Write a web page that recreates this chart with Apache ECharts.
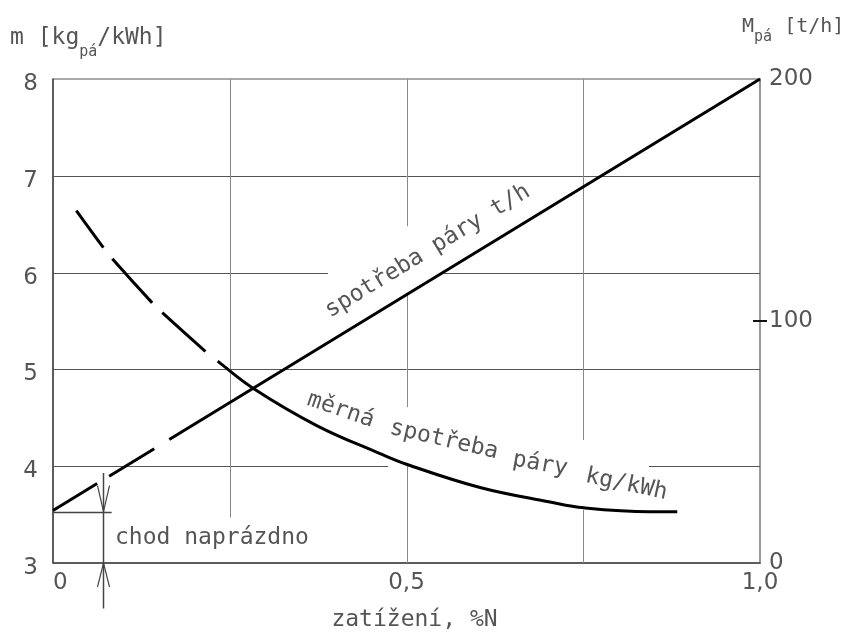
<!DOCTYPE html>
<html><head><meta charset="utf-8">
<script src="https://cdn.jsdelivr.net/npm/echarts@6/dist/echarts.min.js"></script>
<style>html,body{margin:0;padding:0;background:#fff}#c{width:851px;height:637px}</style>
</head><body><div id="c"></div>
<script>
// ---- data ----
const loadX  = [0.033, 0.071, 0.083, 0.140, 0.154, 0.215, 0.232, 0.284, 0.373, 0.4625, 0.5, 0.604, 0.703, 0.751, 0.844, 0.883];
const specM  = [6.64, 6.26, 6.15, 5.69, 5.59, 5.19, 5.09, 4.80, 4.42, 4.13, 4.02, 3.78, 3.63, 3.57, 3.53, 3.53];
const steamX = [0, 1];
const steamT = [21.7, 200];
const xTicks = [0, 0.5, 1];
const xTickText = ['0', '0,5', '1,0'];
const leftTicks = [3, 4, 5, 6, 7, 8];
const rightTicks = [0, 100, 200];
const idleM = 3.53;          // chod naprázdno level
const idleX = 0.0707;        // dimension line position
const xName = 'zatížení, %N';
const leftName = ['m [kg', 'pá', '/kWh]'];
const rightName = ['M', 'pá', ' [t/h]'];
const lblSteam = 'spotřeba páry t/h';
const lblSpec = ['měrná', 'spotřeba', 'páry', 'kg/kWh'];
const lblIdle = 'chod naprázdno';
// grid segments (data units): [value, from, to]
const hGrid = [[7,0,1],[5,0,1],[6,0,0.389],[6,0.552,1],[4,0,0.474],[4,0.843,1]];
const vGrid = [[0.25,3.47,8],[0.5,3,4.02],[0.5,4.61,5.77],[0.5,6.48,8],[0.75,3,3.55],[0.75,4.27,8]];

const chart = echarts.init(document.getElementById('c'));
const NUMF = "'DejaVu Sans',sans-serif";
const WORDF = "'DejaVu Sans Mono',monospace";
const TXT = '#555';
chart.setOption({
  animation:false,
  grid:{left:53,right:91,top:79,bottom:70,show:true,borderColor:'#555',borderWidth:1,backgroundColor:'transparent'},
  xAxis:{type:'value',min:0,max:1,interval:0.5,
    axisLine:{show:true,lineStyle:{color:'#444',width:1.5}},axisTick:{show:false},splitLine:{show:false},
    axisLabel:{color:TXT,fontFamily:NUMF,fontSize:23,margin:9,alignMinLabel:'left',alignMaxLabel:'center',
      formatter:v=>{const i=xTicks.indexOf(v);return i>=0?xTickText[i]:'';}},
    name:xName,nameLocation:'middle',nameGap:46,nameTextStyle:{color:TXT,fontFamily:WORDF,fontSize:23,padding:[0,0,0,16]}},
  yAxis:[
    {type:'value',min:leftTicks[0],max:leftTicks[leftTicks.length-1],interval:1,position:'left',
      axisLine:{show:true,lineStyle:{color:'#444',width:1.5}},axisTick:{show:false},splitLine:{show:false},
      axisLabel:{color:TXT,fontFamily:NUMF,fontSize:23,margin:15,formatter:v=>'{v|'+v+'}',
        rich:{v:{color:TXT,fontFamily:NUMF,fontSize:23,padding:[10,0,0,0]}}}},
    {type:'value',min:rightTicks[0],max:rightTicks[rightTicks.length-1],interval:100,position:'right',
      axisLine:{show:true,lineStyle:{color:'#999',width:2}},axisTick:{show:false},splitLine:{show:false},
      axisLabel:{color:TXT,fontFamily:NUMF,fontSize:23,margin:9}}
  ],
  series:[
    {type:'line',name:'měrná spotřeba',yAxisIndex:0,showSymbol:false,smooth:0.4,z:5,
      data:loadX.map((x,i)=>[x,specM[i]]),
      lineStyle:{color:'#000',width:3,cap:'butt',type:[45.8,14.2,59.5,14.1,58,15.6,3000]}},
    {type:'line',name:'spotřeba',yAxisIndex:1,showSymbol:false,z:5,
      data:steamX.map((x,i)=>[x,steamT[i]]),
      lineStyle:{color:'#000',width:3,cap:'butt',type:[51.7,14.1,52.8,17.6,3000]}}
  ]
});

const px=(x,y,ax)=>chart.convertToPixel({xAxisIndex:0,yAxisIndex:ax||0},[x,y]);
const crisp=v=>Math.round(v)+0.5;
const els=[];
function seg(a,b,color,w){els.push({type:'line',silent:true,z:1,shape:{x1:a[0],y1:a[1],x2:b[0],y2:b[1]},style:{stroke:color,lineWidth:w}});}
hGrid.forEach(([v,a,b])=>{const p1=px(a,v),p2=px(b,v);const y=crisp(p1[1]);seg([p1[0],y],[p2[0],y],'#555',1);});
vGrid.forEach(([v,a,b])=>{const p1=px(v,a),p2=px(v,b);const x=crisp(p1[0]);seg([x,p1[1]],[x,p2[1]],'#888',1);});
// right axis tick at 100
const t100=px(1,100,1);
seg([t100[0]-7,t100[1]],[t100[0]+7,t100[1]],'#111',2);
// idle annotation
const i1=px(0,idleM), i2=px(0.083,idleM);
seg([i1[0],crisp(i1[1])],[i2[0],crisp(i1[1])],'#444',1.5);
const d1=px(idleX,3.93), d2=px(idleX,2.53);
const dx=crisp(d1[0]);
seg([dx,d1[1]],[dx,d2[1]],'#444',1.5);
const tipA=[dx,px(idleX,idleM)[1]], tipB=[dx,px(idleX,3)[1]];
seg([tipA[0]-6,tipA[1]-26],tipA,'#444',1.2); seg([tipA[0]+6,tipA[1]-26],tipA,'#444',1.2);
seg([tipB[0]-6,tipB[1]+24],tipB,'#444',1.2); seg([tipB[0]+6,tipB[1]+24],tipB,'#444',1.2);
const it=px(0.0877,3.26);
els.push({type:'text',x:it[0],y:it[1],style:{text:lblIdle,fill:TXT,font:'23px '+WORDF,align:'left',verticalAlign:'middle'}});
// steam label
const s0=px(steamX[0],steamT[0],1), s1=px(steamX[1],steamT[1],1);
const ang=Math.atan2(s0[1]-s1[1], s1[0]-s0[0]);
const sc=px(0.53,6.22);
els.push({type:'text',x:sc[0],y:sc[1],rotation:ang,style:{text:lblSteam,fill:TXT,font:'23px '+WORDF,align:'center',verticalAlign:'middle'}});
// specific consumption label pieces
const specPos=[[0.407,4.58,19],[0.553,4.27,13],[0.689,4.02,10],[0.811,3.81,12]];
lblSpec.forEach((t,i)=>{const [x,m,a]=specPos[i];const p=px(x,m);
  els.push({type:'text',x:p[0],y:p[1],rotation:-a*Math.PI/180,style:{text:t,fill:TXT,font:'23px '+WORDF,align:'center',verticalAlign:'middle'}});});
// axis titles
function title(parts,x,y,fs,lh){
  els.push({type:'text',x:x,y:y,style:{text:'{a|'+parts[0]+'}{s|'+parts[1]+'}{a|'+parts[2]+'}',fill:TXT,align:'left',verticalAlign:'top',
    rich:{a:{fontFamily:WORDF,fontSize:fs,lineHeight:lh,fill:TXT,color:TXT},s:{fontFamily:WORDF,fontSize:15,lineHeight:8,verticalAlign:'bottom',fill:TXT,color:TXT}}}});
}
title(leftName,10,16,23,44);
title(rightName,742,9,20,36);
chart.setOption({graphic:{elements:els}});
</script></body></html>
